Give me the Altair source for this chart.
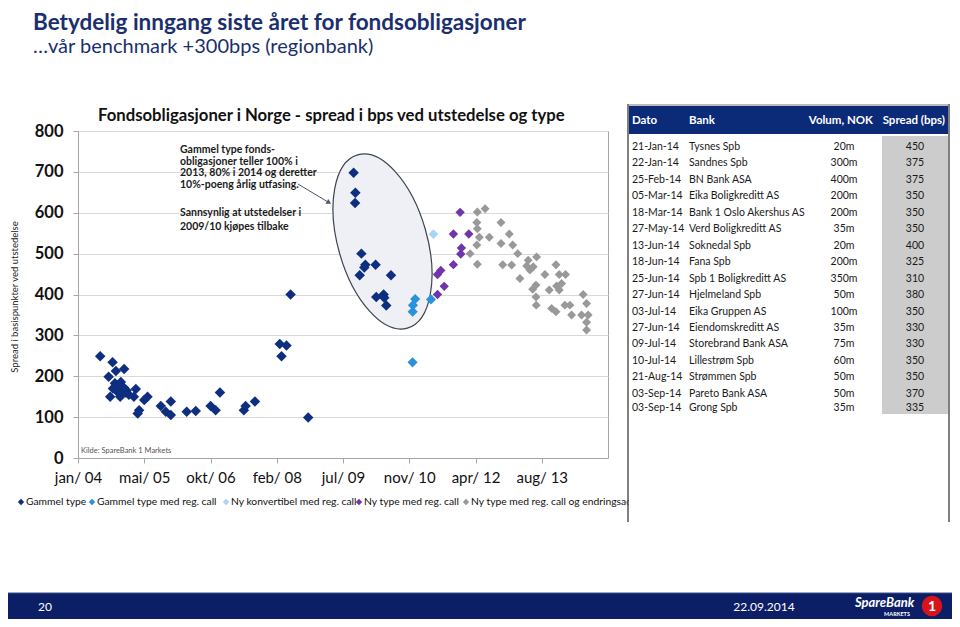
import altair as alt
import pandas as pd

# ---------------- data ----------------
gammel_dates = ["2004-06-18", "2004-09-20", "2004-12-17", "2004-10-15", "2004-08-21", "2004-10-08",
                "2004-11-07", "2004-11-30", "2004-10-23", "2004-12-30", "2004-11-15", "2004-12-15",
                "2004-09-23", "2005-01-22", "2004-09-02", "2004-11-17", "2005-03-16", "2005-03-01",
                "2005-06-13", "2005-05-19", "2005-04-10", "2005-03-30", "2005-09-22", "2005-12-07",
                "2005-10-30", "2005-12-07", "2006-04-07", "2006-06-15", "2006-10-06", "2006-11-13",
                "2006-12-16", "2007-06-16", "2007-06-29", "2007-09-08", "2008-03-15", "2008-05-05",
                "2008-03-28", "2008-10-17", "2008-06-05", "2009-09-28", "2009-10-11", "2009-10-09",
                "2009-11-26", "2009-12-26", "2009-12-18", "2009-11-13", "2010-03-14", "2010-07-09",
                "2010-03-19", "2010-05-14", "2010-05-19", "2010-06-03", "2004-10-28", "2004-12-05",
                "2004-11-22", "2005-01-05"]
gammel_vals = [249, 234, 218, 213, 199, 183, 176, 168, 163, 160, 158, 172, 170, 155, 150, 150, 169, 150,
               150, 142, 117, 109, 127, 138, 113, 105, 113, 115, 127, 117, 160, 117, 127, 138, 279, 275,
               249, 99, 400, 698, 649, 624, 500, 473, 466, 447, 473, 447, 394, 400, 392, 373, 178, 162,
               186, 165]

medreg_dates = ["2011-01-09", "2010-12-23", "2010-12-21", "2011-05-09", "2010-12-20"]
medreg_vals = [389, 374, 358, 388, 234]

konv_dates = ["2011-05-28"]
konv_vals = [548]

nytype_dates = ["2011-12-17", "2011-10-27", "2012-02-21", "2011-12-27", "2011-12-22", "2011-10-27",
                "2011-07-23", "2011-06-28", "2011-08-18", "2011-06-28"]
nytype_vals = [601, 548, 548, 514, 499, 473, 459, 449, 420, 400]

endring_dates = ["2012-06-24", "2012-04-26", "2012-04-22", "2012-04-26", "2012-05-11", "2012-04-22",
                 "2012-03-02", "2012-04-26", "2012-07-26", "2012-10-23", "2012-12-25", "2012-10-23",
                 "2013-01-20", "2013-02-27", "2012-11-05", "2013-01-12", "2013-03-16", "2013-05-18",
                 "2013-07-21", "2013-05-06", "2013-06-25", "2013-05-31", "2013-09-22", "2013-12-15",
                 "2014-01-09", "2014-02-26", "2013-07-16", "2013-06-21", "2013-07-16", "2013-07-18",
                 "2013-10-25", "2013-12-20", "2014-01-27", "2014-01-09", "2013-11-12", "2013-12-15",
                 "2014-02-21", "2014-03-31", "2014-04-13", "2014-07-10", "2014-08-05", "2014-06-28",
                 "2014-08-05", "2014-08-17", "2014-08-05"]
endring_vals = [610, 602, 576, 561, 540, 521, 500, 474, 540, 576, 548, 525, 521, 500, 473, 472, 439, 484,
                492, 470, 468, 460, 449, 473, 449, 449, 423, 413, 394, 374, 411, 421, 427, 411, 366, 358,
                374, 374, 350, 400, 378, 350, 332, 350, 313]

series_names = ["Gammel type", "Gammel type med reg. call", "Ny konvertibel med reg. call",
                "Ny type med reg. call", "Ny type med reg. call og endringsadgang"]

x_tick_dates = [(2004, 1, 1), (2005, 5, 19), (2006, 10, 5), (2008, 2, 21), (2009, 7, 9),
                (2010, 11, 25), (2012, 4, 12), (2013, 8, 29)]
x_tick_labels = ["jan/ 04", "mai/ 05", "okt/ 06", "feb/ 08", "jul/ 09", "nov/ 10", "apr/ 12", "aug/ 13"]
y_ticks = [0, 100, 200, 300, 400, 500, 600, 700, 800]

tab_dato = ["21-Jan-14", "22-Jan-14", "25-Feb-14", "05-Mar-14", "18-Mar-14", "27-May-14", "13-Jun-14",
            "18-Jun-14", "25-Jun-14", "27-Jun-14", "03-Jul-14", "27-Jun-14", "09-Jul-14", "10-Jul-14",
            "21-Aug-14", "03-Sep-14", "03-Sep-14"]
tab_bank = ["Tysnes Spb", "Sandnes Spb", "BN Bank ASA", "Eika Boligkreditt AS", "Bank 1 Oslo Akershus AS",
            "Verd Boligkreditt AS", "Soknedal Spb", "Fana Spb", "Spb 1 Boligkreditt AS", "Hjelmeland Spb",
            "Eika Gruppen AS", "Eiendomskreditt AS", "Storebrand Bank ASA", "Lillestrøm Spb",
            "Strømmen Spb", "Pareto Bank ASA", "Grong Spb"]
tab_volum = ["20m", "300m", "400m", "200m", "200m", "35m", "20m", "200m", "350m", "50m", "100m", "35m",
             "75m", "60m", "50m", "50m", "35m"]
tab_spread = [450, 375, 375, 350, 350, 350, 400, 325, 310, 380, 350, 330, 330, 350, 350, 370, 335]

# ---------------- styles / layout ----------------
FONT = "Lato"
series_colors = ["#0e2f7f", "#2a92db", "#a8d3f2", "#7035a8", "#999999"]
series_sizes = [110, 80, 45, 45, 180]
OX, OY = 78, 131          # page position of plot origin
W, H = 530, 327

def px(x):
    return x - OX

def py(y):
    return y - OY

one = pd.DataFrame({"k": [0]})

def text(s, x, y, **kw):
    kw.setdefault("font", FONT)
    kw.setdefault("baseline", "middle")
    return alt.Chart(pd.DataFrame({"t": [s]})).mark_text(**kw).encode(
        x=alt.value(px(x)), y=alt.value(py(y)), text="t:N")

def rect(x1, y1, x2, y2, color):
    return alt.Chart(one).mark_rect(color=color).encode(
        x=alt.value(px(x1)), x2=alt.value(px(x2)), y=alt.value(py(y1)), y2=alt.value(py(y2)))

def rule(x1, y1, x2, y2, color, w=1.0):
    return alt.Chart(one).mark_rule(color=color, strokeWidth=w).encode(
        x=alt.value(px(x1)), x2=alt.value(px(x2)), y=alt.value(py(y1)), y2=alt.value(py(y2)))

# ---------------- scatter ----------------
frames = []
for name, d, v in zip(series_names,
                      [gammel_dates, medreg_dates, konv_dates, nytype_dates, endring_dates],
                      [gammel_vals, medreg_vals, konv_vals, nytype_vals, endring_vals]):
    frames.append(pd.DataFrame({"dato": d, "spread": v, "type": name}))
df = pd.concat(frames, ignore_index=True)

color_scale = alt.Scale(domain=series_names, range=series_colors)
size_scale = alt.Scale(domain=series_names, range=series_sizes)

label_expr = ""
for (yr, m, d), lab in zip(x_tick_dates, x_tick_labels):
    label_expr += f"utcFormat(datum.value, '%Y') == '{yr}' ? '{lab}' : "
label_expr += "''"

scatter = alt.Chart(df).mark_point(shape="diamond", filled=True, opacity=1).encode(
    x=alt.X("dato:T",
            scale=alt.Scale(type="utc",
                            domain=[alt.DateTime(year=2004, month=1, date=1, utc=True),
                                    alt.DateTime(year=2015, month=1, date=15, utc=True)]),
            axis=alt.Axis(values=[alt.DateTime(year=a, month=b, date=c, utc=True) for a, b, c in x_tick_dates],
                          labelExpr=label_expr, grid=False, title=None, labelFlush=False,
                          labelOverlap=False, domainColor="#a6a6a6", tickColor="#a6a6a6", tickSize=5,
                          labelFont=FONT, labelFontSize=15, labelColor="#111111", labelPadding=7)),
    y=alt.Y("spread:Q",
            scale=alt.Scale(domain=[0, 800], nice=False),
            axis=alt.Axis(values=y_ticks, grid=True, gridColor="#d9d9d9", title=None, labelFlush=False,
                          domainColor="#a6a6a6", tickColor="#a6a6a6", tickSize=5, labelFont=FONT,
                          labelFontSize=16.5, labelFontWeight="bold", labelColor="#111111",
                          labelPadding=10)),
    color=alt.Color("type:N", scale=color_scale, legend=None),
    size=alt.Size("type:N", scale=size_scale, legend=None),
)

# ellipse annotation
k, r = 0.5523, 0.494
ell_path = (f"M0,-1C{k*r:.4f},-1,{r},{-k},{r},0C{r},{k},{k*r:.4f},1,0,1"
            f"C{-k*r:.4f},1,{-r},{k},{-r},0C{-r},{-k},{-k*r:.4f},-1,0,-1Z")
ellipse = alt.Chart(one).mark_point(shape=ell_path, size=32500, angle=344, filled=False,
                                    fill="#eef0f6", fillOpacity=1, stroke="#3c4452",
                                    strokeWidth=1.2, opacity=1).encode(
    x=alt.value(px(382.5)), y=alt.value(py(241.5)))

arrow_line = rule(298, 184, 328, 202, "#4a5670", 1)
arrow_head = alt.Chart(one).mark_point(shape="triangle-right", filled=True, size=30, angle=31,
                                       color="#4a5670", opacity=1).encode(
    x=alt.value(px(329)), y=alt.value(py(202.6)))

annot = []
for i, s in enumerate(["Gammel type fonds-", "obligasjoner teller 100% i",
                       "2013, 80% i 2014 og deretter", "10%-poeng årlig utfasing."]):
    annot.append(text(s, 180, 150 + i * 11.7, align="left", fontSize=10.5, fontWeight="bold",
                      color="#1a1a1a"))
for i, s in enumerate(["Sannsynlig at utstedelser i", "2009/10 kjøpes tilbake"]):
    annot.append(text(s, 180, 213 + i * 13.5, align="left", fontSize=10.5, fontWeight="bold",
                      color="#1a1a1a"))

titles = [
    text("Betydelig inngang siste året for fondsobligasjoner", 33, 23, align="left", fontSize=22.5,
         fontWeight="bold", color="#1b2f6e"),
    text("…vår benchmark +300bps (regionbank)", 33, 47, align="left", fontSize=20, color="#1b2f6e"),
    text("Fondsobligasjoner i Norge - spread i bps ved utstedelse og type", 98, 116, align="left",
         fontSize=16.7, fontWeight="bold", color="#111111"),
    text("Spread i basispunkter ved utstedelse", 15, 297, align="center", fontSize=9.5, angle=270,
         color="#222222"),
    text("Kilde: SpareBank 1 Markets", 81, 451, align="left", fontSize=7.5, color="#555555"),
]

# manual legend
leg_sym_x = [21, 92, 226, 359, 466]
leg_df = pd.DataFrame({"type": series_names,
                       "sx": [px(x) for x in leg_sym_x],
                       "tx": [px(x + 5) for x in leg_sym_x]})
leg_sym = alt.Chart(leg_df).mark_point(shape="diamond", filled=True, opacity=1, size=40).encode(
    x=alt.X("sx:Q", scale=None, axis=None), y=alt.value(py(502)),
    color=alt.Color("type:N", scale=color_scale, legend=None))
leg_txt = alt.Chart(leg_df).mark_text(align="left", baseline="middle", font=FONT, fontSize=10.3,
                                      color="#111111").encode(
    x=alt.X("tx:Q", scale=None, axis=None), y=alt.value(py(502)), text="type:N")

# table
row_y = [147 + 16.45 * i for i in range(16)] + [408]
tab_df = pd.DataFrame({"dato": tab_dato, "bank": tab_bank, "volum": tab_volum,
                       "spread": [str(s) for s in tab_spread], "ry": [py(y) for y in row_y]})

def col(field, x, align):
    return alt.Chart(tab_df).mark_text(align=align, baseline="middle", font=FONT, fontSize=10.5,
                                       color="#1a1a1a").encode(
        x=alt.value(px(x)), y=alt.Y("ry:Q", scale=None, axis=None), text=f"{field}:N")

table = [
    rect(629, 104, 949, 524, "#ffffff"),
    rect(629, 106, 948, 134, "#0b2a78"),
    rect(882, 136, 948, 414, "#cccccc"),
    rule(628, 104, 628, 522, "#555555", 1.5),
    rule(949, 104, 949, 522, "#555555", 1.5),
    rule(628, 105, 949, 105, "#777777", 1),
    text("Dato", 632, 121, align="left", fontSize=11.5, fontWeight="bold", color="white"),
    text("Bank", 689, 121, align="left", fontSize=11.5, fontWeight="bold", color="white"),
    text("Volum, NOK", 873, 121, align="right", fontSize=11.5, fontWeight="bold", color="white"),
    text("Spread (bps)", 945, 121, align="right", fontSize=11.5, fontWeight="bold", color="white"),
    col("dato", 632, "left"),
    col("bank", 689, "left"),
    col("volum", 844, "center"),
    col("spread", 915, "center"),
]

footer = [
    rect(8, 593, 952, 619, "#0c1f66"),
    rule(8, 593, 952, 593, "#3b4f8f", 1),
    text("20", 45, 607, align="center", fontSize=12, color="white"),
    text("22.09.2014", 764, 607, align="center", fontSize=12, color="white"),
    text("SpareBank", 855, 603, align="left", fontSize=13, fontWeight="bold", fontStyle="italic",
         color="white"),
    text("MARKETS", 897, 614, align="center", fontSize=5.5, fontWeight="bold", color="white"),
    alt.Chart(one).mark_point(shape="circle", filled=True, size=420, color="#d7141a", opacity=1).encode(
        x=alt.value(px(932)), y=alt.value(py(606))),
    text("1", 932, 607, align="center", fontSize=14, fontWeight="bold", color="white"),
]

chart = alt.layer(
    ellipse, scatter, arrow_line, arrow_head, *annot, *titles, leg_sym, leg_txt, *table, *footer
).resolve_scale(x="independent", y="independent").properties(
    width=W, height=H,
    padding={"left": OX - 8, "top": OY - 8, "right": 944 - (OX - 8) - W, "bottom": 611 - (OY - 8) - H},
    autosize=alt.AutoSizeParams(type="none"),
    background="white",
).configure_view(stroke="#a6a6a6", strokeWidth=1).configure_axis(domainWidth=1, tickWidth=1)

chart.save("out.html", embed_options={"renderer": "svg", "actions": False})
